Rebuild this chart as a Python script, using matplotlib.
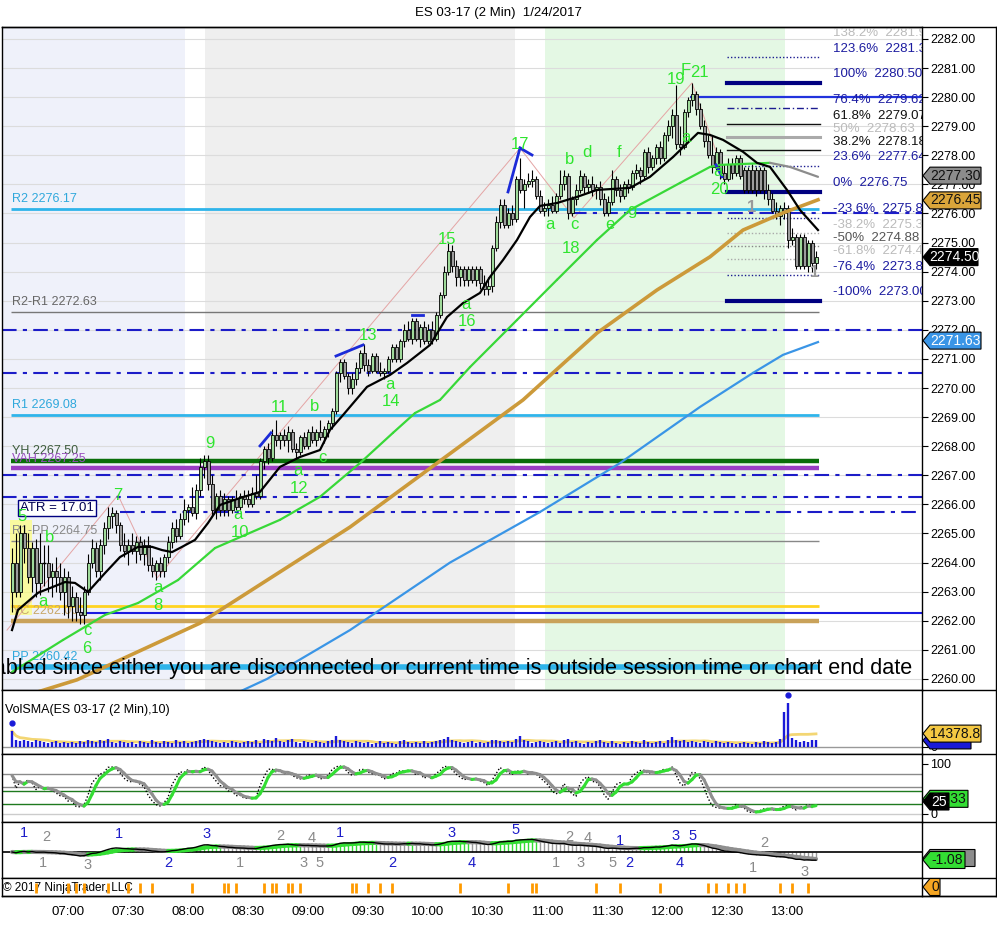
import numpy as np
import pandas as pd
import matplotlib
matplotlib.use('Agg')
import matplotlib.pyplot as plt
from matplotlib.patches import Rectangle, Polygon
from matplotlib.collections import LineCollection
from matplotlib.lines import Line2D
from matplotlib.transforms import IdentityTransform

plt.rcParams['font.family'] = ['Liberation Sans', 'DejaVu Sans']

# ---------------- data ----------------
first_bar = "06:32"          # 2-minute bars
bar_minutes_step = 2
opens = [
    2263.0, 2264.0, 2263.0, 2265.0, 2264.5, 2263.5, 2264.5, 2263.3, 2264.0, 2264.0,
    2263.5, 2263.7, 2263.5, 2263.0, 2263.5, 2262.5, 2262.8, 2262.3, 2262.2, 2263.0,
    2264.0, 2264.5, 2263.7, 2264.6, 2265.2, 2265.6, 2265.7, 2265.3, 2264.6, 2264.4,
    2264.6, 2264.4, 2264.7, 2264.3, 2264.6, 2263.9, 2263.7, 2264.0, 2263.7, 2264.2,
    2264.7, 2265.2, 2264.9, 2265.5, 2265.8, 2265.9, 2265.7, 2266.5, 2267.3, 2267.5,
    2266.7, 2265.8, 2266.3, 2265.8, 2266.2, 2265.8, 2266.2, 2265.9, 2266.3, 2266.2,
    2266.0, 2266.4, 2266.3, 2267.5, 2267.9, 2267.6, 2268.4, 2268.2, 2268.4, 2268.2,
    2268.5, 2267.9, 2267.8, 2268.3, 2268.0, 2268.5, 2268.2, 2268.5, 2268.3, 2268.6,
    2268.8, 2269.2, 2270.5, 2270.9, 2270.4, 2270.0, 2270.3, 2270.7, 2271.2, 2270.8,
    2270.6, 2271.1, 2270.6, 2270.5, 2270.6, 2271.0, 2271.4, 2271.0, 2271.6, 2272.0,
    2271.7, 2272.3, 2271.7, 2272.1, 2271.6, 2272.0, 2271.7, 2272.5, 2273.2, 2274.0,
    2274.7, 2274.2, 2273.8, 2274.1, 2273.7, 2274.1, 2273.7, 2274.1, 2273.6, 2273.4,
    2273.5, 2274.8, 2275.7, 2276.3, 2275.6, 2276.0, 2275.8, 2277.2, 2276.8, 2277.0,
    2277.1, 2277.2, 2276.6, 2276.1, 2276.2, 2276.3, 2276.1, 2276.6, 2277.0, 2277.3,
    2276.0, 2276.5, 2276.8, 2277.3, 2276.9, 2277.0, 2276.8, 2276.9, 2276.5, 2276.0,
    2276.4, 2277.2, 2276.8, 2276.6, 2277.0, 2276.9, 2277.4, 2277.5, 2277.3, 2278.1,
    2277.6, 2277.9, 2278.3, 2277.9, 2278.7, 2279.0, 2279.4, 2278.4, 2278.3, 2279.5,
    2279.9, 2280.1, 2279.6, 2279.0, 2278.5, 2278.0, 2277.6, 2278.1, 2277.4, 2277.2,
    2277.7, 2277.4, 2277.9, 2277.5, 2277.5, 2277.5, 2277.5, 2277.5, 2277.5, 2276.8,
    2276.5, 2276.1, 2275.9, 2276.2, 2276.2, 2275.1, 2275.2, 2274.2, 2275.2, 2274.2,
    2275.0, 2274.3]
highs = [
    2264.5, 2265.0, 2265.3, 2265.3, 2265.0, 2264.7, 2264.8, 2265.0, 2264.6, 2264.6,
    2264.0, 2264.2, 2264.0, 2263.8, 2263.7, 2263.2, 2263.0, 2262.8, 2263.2, 2264.3,
    2264.8, 2264.7, 2264.8, 2265.4, 2265.9, 2265.9, 2265.8, 2265.4, 2265.0, 2264.8,
    2265.0, 2264.9, 2264.9, 2264.8, 2264.9, 2264.2, 2264.1, 2264.2, 2264.3, 2264.9,
    2265.4, 2265.5, 2265.7, 2266.2, 2266.0, 2266.6, 2266.7, 2267.6, 2267.7, 2267.7,
    2267.0, 2266.4, 2266.5, 2266.4, 2266.3, 2266.3, 2266.5, 2266.4, 2266.5, 2266.5,
    2266.6, 2267.0, 2267.6, 2268.0, 2268.1, 2268.6, 2268.9, 2268.5, 2268.6, 2268.7,
    2268.6, 2268.1, 2268.4, 2268.5, 2268.6, 2268.7, 2268.6, 2268.9, 2268.7, 2268.9,
    2269.3, 2270.6, 2271.0, 2271.0, 2270.5, 2270.5, 2270.9, 2271.3, 2271.5, 2271.0,
    2271.2, 2271.2, 2270.9, 2270.7, 2271.1, 2271.5, 2271.5, 2271.7, 2272.2, 2272.3,
    2272.4, 2272.4, 2272.2, 2272.3, 2272.2, 2272.3, 2272.6, 2273.3, 2274.2, 2275.0,
    2274.9, 2274.4, 2274.2, 2274.2, 2274.2, 2274.2, 2274.2, 2274.2, 2273.9, 2273.8,
    2274.9, 2275.9, 2276.5, 2276.5, 2276.2, 2276.3, 2277.3, 2277.9, 2277.2, 2277.4,
    2277.5, 2277.3, 2276.8, 2276.4, 2276.5, 2276.6, 2276.7, 2277.5, 2277.5, 2277.4,
    2276.6, 2277.0, 2277.5, 2277.4, 2277.2, 2277.3, 2277.0, 2277.1, 2276.7, 2276.6,
    2277.5, 2277.3, 2277.0, 2277.1, 2277.2, 2277.5, 2277.7, 2277.6, 2278.2, 2278.3,
    2278.0, 2278.4, 2278.5, 2278.8, 2279.2, 2279.6, 2280.4, 2279.0, 2279.6, 2280.0,
    2280.5, 2280.2, 2279.8, 2279.2, 2278.7, 2278.7, 2278.3, 2278.2, 2277.7, 2277.9,
    2277.9, 2278.0, 2278.0, 2277.6, 2277.6, 2277.7, 2277.6, 2277.6, 2277.6, 2277.0,
    2276.7, 2276.4, 2276.3, 2276.4, 2276.3, 2275.5, 2275.3, 2275.3, 2275.3, 2275.1,
    2275.1, 2274.7]
lows = [
    2262.3, 2262.8, 2262.8, 2264.0, 2263.3, 2263.0, 2262.8, 2262.9, 2263.2, 2263.0,
    2262.8, 2263.0, 2262.7, 2262.2, 2262.1, 2262.0, 2262.0, 2261.9, 2261.9, 2262.9,
    2263.8, 2263.5, 2263.4, 2264.3, 2264.8, 2265.2, 2265.0, 2264.4, 2264.2, 2263.9,
    2264.3, 2264.0, 2264.1, 2263.9, 2263.7, 2263.5, 2263.4, 2263.5, 2263.5, 2264.0,
    2264.5, 2264.7, 2264.8, 2265.3, 2265.4, 2265.6, 2265.5, 2266.3, 2266.9, 2266.5,
    2265.6, 2265.5, 2265.6, 2265.6, 2265.6, 2265.7, 2265.8, 2265.8, 2266.0, 2265.9,
    2265.9, 2266.2, 2266.2, 2267.2, 2267.4, 2267.5, 2268.0, 2267.9, 2268.0, 2267.8,
    2267.8, 2267.6, 2267.7, 2267.9, 2267.9, 2268.1, 2268.0, 2268.2, 2268.1, 2268.3,
    2268.6, 2269.1, 2270.2, 2270.3, 2269.8, 2269.8, 2270.1, 2270.5, 2270.6, 2270.4,
    2270.5, 2270.5, 2270.4, 2270.3, 2270.5, 2270.9, 2270.9, 2270.9, 2271.4, 2271.6,
    2271.5, 2271.6, 2271.4, 2271.5, 2271.5, 2271.5, 2271.6, 2272.4, 2273.1, 2273.9,
    2274.0, 2273.5, 2273.5, 2273.5, 2273.5, 2273.6, 2273.5, 2273.4, 2273.2, 2273.2,
    2273.3, 2274.7, 2275.5, 2275.5, 2275.5, 2275.6, 2275.7, 2276.7, 2276.2, 2276.9,
    2276.9, 2276.5, 2276.0, 2275.9, 2275.9, 2276.0, 2276.0, 2276.5, 2276.8, 2275.8,
    2275.9, 2276.3, 2276.7, 2276.7, 2276.7, 2276.6, 2276.5, 2276.3, 2275.9, 2275.9,
    2276.3, 2276.6, 2276.4, 2276.5, 2276.7, 2276.8, 2277.2, 2277.0, 2277.2, 2277.4,
    2277.5, 2277.7, 2277.7, 2277.8, 2278.5, 2278.6, 2278.2, 2278.0, 2278.2, 2279.3,
    2279.7, 2279.4, 2278.9, 2278.3, 2277.9, 2277.4, 2277.5, 2277.2, 2277.0, 2277.1,
    2277.2, 2277.3, 2277.2, 2276.7, 2276.7, 2276.7, 2276.6, 2276.7, 2276.5, 2276.3,
    2276.0, 2275.8, 2275.6, 2275.8, 2274.8, 2274.9, 2274.1, 2274.1, 2274.1, 2274.0,
    2274.0, 2274.1]
closes = [
    2264.0, 2263.0, 2265.0, 2264.5, 2263.5, 2264.5, 2263.3, 2264.0, 2264.0, 2263.5,
    2263.7, 2263.5, 2263.0, 2263.5, 2262.5, 2262.8, 2262.3, 2262.2, 2263.0, 2264.0,
    2264.5, 2263.7, 2264.6, 2265.2, 2265.6, 2265.7, 2265.3, 2264.6, 2264.4, 2264.6,
    2264.4, 2264.7, 2264.3, 2264.6, 2263.9, 2263.7, 2264.0, 2263.7, 2264.2, 2264.7,
    2265.2, 2264.9, 2265.5, 2265.8, 2265.9, 2265.7, 2266.5, 2267.3, 2267.5, 2266.7,
    2265.8, 2266.3, 2265.8, 2266.2, 2265.8, 2266.2, 2265.9, 2266.3, 2266.2, 2266.0,
    2266.4, 2266.3, 2267.5, 2267.9, 2267.6, 2268.4, 2268.2, 2268.4, 2268.2, 2268.5,
    2267.9, 2267.8, 2268.3, 2268.0, 2268.5, 2268.2, 2268.5, 2268.3, 2268.6, 2268.8,
    2269.2, 2270.5, 2270.9, 2270.4, 2270.0, 2270.3, 2270.7, 2271.2, 2270.8, 2270.6,
    2271.1, 2270.6, 2270.5, 2270.6, 2271.0, 2271.4, 2271.0, 2271.6, 2272.0, 2271.7,
    2272.3, 2271.7, 2272.1, 2271.6, 2272.0, 2271.7, 2272.5, 2273.2, 2274.0, 2274.7,
    2274.2, 2273.8, 2274.1, 2273.7, 2274.1, 2273.7, 2274.1, 2273.6, 2273.4, 2273.5,
    2274.8, 2275.7, 2276.3, 2275.6, 2276.0, 2275.8, 2277.2, 2276.8, 2277.0, 2277.1,
    2277.2, 2276.6, 2276.1, 2276.2, 2276.3, 2276.1, 2276.6, 2277.0, 2277.3, 2276.0,
    2276.5, 2276.8, 2277.3, 2276.9, 2277.0, 2276.8, 2276.9, 2276.5, 2276.0, 2276.4,
    2277.2, 2276.8, 2276.6, 2277.0, 2276.9, 2277.4, 2277.5, 2277.3, 2278.1, 2277.6,
    2277.9, 2278.3, 2277.9, 2278.7, 2279.0, 2279.4, 2278.4, 2278.3, 2279.5, 2279.9,
    2280.1, 2279.6, 2279.0, 2278.5, 2278.0, 2277.6, 2278.1, 2277.4, 2277.2, 2277.7,
    2277.4, 2277.9, 2277.3, 2276.8, 2276.8, 2276.8, 2276.8, 2276.8, 2276.8, 2276.5,
    2276.1, 2275.9, 2276.2, 2276.0, 2275.1, 2275.2, 2274.2, 2275.2, 2274.2, 2275.0,
    2274.3, 2274.5]
volume_k = [
    17, 7, 6, 8, 6, 5, 7, 6, 5, 4, 5, 6, 4, 5,
    4, 5, 4, 6, 5, 8, 6, 5, 7, 6, 9, 5, 4, 6, 5,
    4, 5, 3, 6, 5, 4, 7, 5, 4, 6, 5, 4, 7, 5, 6,
    4, 5, 6, 8, 9, 7, 6, 5, 4, 5, 4, 6, 5, 4, 5,
    6, 5, 7, 4, 9, 8, 6, 10, 6, 5, 7, 9, 5, 4, 6,
    5, 4, 6, 5, 4, 6, 7, 12, 7, 6, 5, 4, 6, 5, 4,
    5, 3, 4, 6, 4, 5, 4, 3, 6, 7, 5, 4, 5, 4, 6,
    4, 5, 6, 8, 9, 11, 7, 6, 5, 4, 5, 6, 4, 5, 4,
    5, 7, 8, 6, 5, 6, 5, 9, 12, 7, 6, 4, 5, 6, 5,
    4, 5, 6, 4, 7, 9, 5, 6, 4, 3, 5, 4, 6, 7, 5,
    4, 6, 4, 3, 5, 4, 6, 5, 4, 7, 5, 4, 5, 6, 4,
    7, 11, 8, 6, 7, 5, 6, 5, 4, 6, 5, 4, 6, 5, 4,
    5, 4, 3, 4, 5, 4, 3, 5, 4, 6, 5, 4, 5, 9, 38,
    47, 10, 7, 5, 6, 5, 7, 7]
vol_sma_last = 14378.8

# moving averages (bar index, price)
ma_fast_idx = [0, 1.5, 6.5, 13.25, 15.75, 19, 23.25, 27, 31.5, 35, 37.5, 40, 42.5, 45.75, 49, 52, 57,
               62, 67, 72, 77, 79.5, 82.75, 88.75, 94.5, 98.75, 104.5, 108.75, 112.75, 117, 119.5,
               122.75, 126.25, 129.5, 132, 136.25, 141.25, 146.25, 154.5, 159.5, 165.25, 171.5,
               174.5, 177.75, 182.75, 186.25, 189.5, 193.75, 197, 201.5]
ma_fast_val = [2261.68, 2262.37, 2262.96, 2263.33, 2263.30, 2262.99, 2263.64, 2264.19, 2264.54, 2264.54,
               2264.43, 2264.36, 2264.54, 2264.78, 2265.36, 2265.98, 2266.22, 2266.43, 2267.29, 2267.63,
               2267.87, 2268.56, 2269.07, 2270.04, 2270.45, 2270.86, 2271.48, 2272.44, 2272.92, 2273.27,
               2273.82, 2274.40, 2275.09, 2275.88, 2276.26, 2276.36, 2276.57, 2276.81, 2276.88, 2277.26,
               2277.94, 2278.77, 2278.70, 2278.53, 2278.12, 2277.74, 2277.60, 2276.81, 2276.12, 2275.43]
ma_mid_idx = [0, 12.75, 23.25, 31.5, 41.5, 50.75, 67, 77, 87, 95.25, 100.75, 107, 114.5, 126.25,
              136.25, 146.25, 154.5, 167, 174.5, 177, 189.5, 194.5, 201.5]
ma_mid_val = [2260.24, 2261.34, 2262.20, 2262.61, 2263.40, 2264.50, 2265.47, 2266.26, 2267.42, 2268.46,
              2269.14, 2269.59, 2270.72, 2272.34, 2273.72, 2275.09, 2276.12, 2277.05, 2277.60, 2277.67,
              2277.74, 2277.60, 2277.26]
ma_slow_idx = [0, 16.25, 47, 84.5, 127.75, 146.25, 161.25, 174.5, 182.75, 192.75, 201.5]
ma_slow_val = [2259.28, 2259.97, 2261.92, 2265.22, 2269.59, 2271.89, 2273.37, 2274.51, 2275.43, 2276.02, 2276.47]
ma_long_idx = [47, 63.75, 84.5, 109.5, 132, 152, 172, 185.25, 192.75, 201.5]
ma_long_val = [2258.93, 2260.00, 2261.68, 2264.00, 2265.74, 2267.42, 2269.35, 2270.52, 2271.14, 2271.58]

# pivot levels
level_names = ['R2', 'R2-R1', 'R1', 'YH', 'VAH', 'R1-PP', 'YC', 'PP']
level_values = [2276.17, 2272.63, 2269.08, 2267.50, 2267.25, 2264.75, 2262.00, 2260.42]
level_colors = ['#2fb4ea', '#777777', '#2fb4ea', '#0a6e0a', '#9a3fc4', '#888888', '#c9a25a', '#2fb4ea']
level_text_colors = ['#2fa8dc', '#666666', '#2fa8dc', '#3d5c3d', '#9a4fc0', '#888888', '#c8a86a', '#2fa8dc']
level_widths = [2.0, 1.0, 2.0, 3.2, 3.2, 1.0, 3.2, 4.0]
yellow_level = 2262.50
low_line_level = 2262.25
low_line_start_idx = 17
high_line_level = 2280.00
high_line_start_idx = 169.5
dashdot_levels = [2272.00, 2270.50, 2267.00, 2266.25, 2265.75, 2276.00]
dashdot_start_idx = [None, None, None, None, 27, 140]

# fibonacci projection
fib_pct = ['138.2%', '123.6%', '100%', '76.4%', '61.8%', '50%', '38.2%', '23.6%', '0%',
           '-23.6%', '-38.2%', '-50%', '-61.8%', '-76.4%', '-100%']
fib_price = [2281.93, 2281.38, 2280.50, 2279.62, 2279.07, 2278.63, 2278.18, 2277.64, 2276.75,
             2275.86, 2275.32, 2274.88, 2274.43, 2273.89, 2273.00]
fib_text_colors = ['#bbbbbb', '#1c1ca0', '#1c1ca0', '#1c1ca0', '#111111', '#bbbbbb', '#111111', '#1c1ca0',
                   '#1c1ca0', '#1c1ca0', '#bbbbbb', '#555555', '#bbbbbb', '#1c1ca0', '#1c1ca0']

# wave-count labels (bar index, price, text)
wave_idx = [2.5, 9.5, 7.75, 18.75, 18.75, 26.5, 36.5, 36.5, 49.5, 56.5, 57, 66.75, 75.75, 77.5, 71.5,
            71.75, 89, 94.5, 94.75, 108.75, 113.5, 113.75, 127, 134.5, 140.5, 139.75, 139.5, 143.75,
            149.5, 151.75, 155, 166, 168.5, 171.75, 168.5, 176.5, 176.75]
wave_price = [2265.57, 2264.85, 2262.65, 2261.68, 2261.06, 2266.32, 2263.13, 2262.54, 2268.08, 2265.64,
              2265.02, 2269.32, 2269.35, 2267.60, 2267.15, 2266.53, 2271.79, 2270.11, 2269.52, 2275.09,
              2272.86, 2272.27, 2278.36, 2275.61, 2275.61, 2274.78, 2277.84, 2278.08, 2275.61, 2278.08,
              2276.09, 2280.59, 2280.93, 2280.83, 2278.60, 2277.43, 2276.81]
wave_text = ['5', 'b', 'a', 'c', '6', '7', 'a', '8', '9', 'a', '10', '11', 'b', 'c', 'a',
             '12', '13', 'a', '14', '15', 'a', '16', '17', 'a', 'c', '18', 'b', 'd',
             'e', 'f', 'g', '19', 'F', '21', 'a', 'a', '20']
gray_label_idx = [185, 200.75]
gray_label_price = [2276.22, 2273.96]

# divergence marks and zigzag (bar index pairs, price pairs)
div_idx = [(62, 64.75), (81, 87.75), (100, 102.75), (124, 127), (127, 130), (176, 177.5)]
div_price = [(2268.01, 2268.46), (2271.10, 2271.48), (2272.51, 2272.51), (2276.74, 2278.25),
             (2278.25, 2278.01), (2277.67, 2277.26)]
zig_idx = [-1.25, 26.5, 36.25, 127, 140.5, 170, 178.25]
zig_price = [2261.68, 2266.32, 2263.47, 2278.25, 2275.85, 2280.49, 2277.26]

# session shading
band_start = ['06:27', '08:10', '11:00']
band_end = ['08:00', '10:45', '13:00']
band_color = ['#eff1fa', '#efefef', '#e4f8e4']

# MACD-panel swing labels (bar index, value, text, color)
macd_lab_idx = [3, 26.75, 48.75, 82, 110, 126, 152, 166, 170.25,
                39, 95, 115, 154.25, 167,
                8.5, 67, 75, 139.25, 144, 188,
                7.75, 19, 57, 73, 77, 136, 142.25, 150.25, 185.25, 198.25]
macd_lab_val = [1.9, 1.8, 1.8, 1.9, 1.9, 2.2, 1.1, 1.6, 1.6,
                -1.1, -1.1, -1.1, -1.1, -1.1,
                1.5, 1.6, 1.4, 1.5, 1.4, 0.9,
                -1.1, -1.3, -1.1, -1.1, -1.1, -1.1, -1.1, -1.1, -1.6, -2.0]
macd_lab_text = ['1', '1', '3', '1', '3', '5', '1', '3', '5',
                 '2', '2', '4', '2', '4',
                 '2', '2', '4', '2', '4', '2',
                 '1', '3', '1', '3', '5', '1', '3', '5', '1', '3']
macd_lab_blue = [1] * 14 + [0] * 16

signal_bars = [6, 14, 16, 18, 24, 29, 32, 35, 45, 53, 54, 56, 63, 65, 66, 69, 70, 72, 85, 86, 89, 92,
               95, 112, 124, 130, 131, 146, 152, 162, 174, 176, 179, 181, 183, 192, 195, 199]

time_labels = ['07:00', '07:30', '08:00', '08:30', '09:00', '09:30', '10:00', '10:30',
               '11:00', '11:30', '12:00', '12:30', '13:00']

stoch_tag_values = [30.33, 25]
macd_tag_values = [-0.6, -0.8]
macd_tag_text = ['', '-1.08']


# ---------------- helpers ----------------
def hm(s):
    h, m = s.split(':')
    return int(h) * 60 + int(m)

T0 = hm(first_bar)
def bx(i):
    return T0 + bar_minutes_step * np.asarray(i, dtype=float)

n = len(closes)
xb = bx(np.arange(n))

W, H = 997, 952
fig = plt.figure(figsize=(W / 100, H / 100), dpi=100)

def fx(x): return x / W
def fy(y): return 1 - y / H

def add_panel(top, bottom):
    return fig.add_axes([fx(2), fy(bottom), fx(922) - fx(2), fy(top) - fy(bottom)])

ax = add_panel(27, 690)
axv = add_panel(690, 754)
axs = add_panel(754, 822)
axm = add_panel(822, 878)
axg = add_panel(878, 896)
XL = (T0 - 5, T0 + 455)
for a in (ax, axv, axs, axm, axg):
    a.set_xlim(*XL)
    a.tick_params(axis='x', which='both', length=0, labelbottom=False)
    a.yaxis.tick_right()
    a.tick_params(axis='y', direction='out', length=4, pad=2, labelsize=9, width=0.8)
    for s in a.spines.values():
        s.set_linewidth(1.0)

def slope_line(a, x, y, up, down, lw, z):
    x = np.asarray(x); y = np.asarray(y)
    pts = np.column_stack([x, y])
    segs = np.stack([pts[:-1], pts[1:]], axis=1)
    cols = [up if y[i + 1] >= y[i] else down for i in range(len(y) - 1)]
    a.add_collection(LineCollection(segs, colors=cols, linewidths=lw, zorder=z, capstyle='round'))

# ---------------- main price panel ----------------
ax.set_ylim(2259.62, 2282.41)
pticks = np.arange(2260, 2283)
ax.set_yticks(pticks)
ax.set_yticklabels([f'{v:.2f}' for v in pticks])
for v in pticks:
    ax.axhline(v, color='#dcdcdc', lw=0.8, zorder=0.6)

for s0, s1, col in zip(band_start, band_end, band_color):
    ax.axvspan(hm(s0) - 1.5, hm(s1) - 1.5, color=col, zorder=0.1, lw=0)

x_first, x_last = xb[0] - 0.5, xb[-1] + 1.5
for name, val, col, tcol, lw in zip(level_names, level_values, level_colors, level_text_colors, level_widths):
    ax.hlines(val, x_first, x_last, color=col, lw=lw, zorder=2.4)
    ax.text(x_first + 0.5, val + 0.12, f'{name} {val:.2f}', color=tcol, fontsize=9,
            va='bottom', ha='left', zorder=2.6)
ax.hlines(yellow_level, x_first, x_last, color='#ffd320', lw=2.0, zorder=2.3)
ax.hlines(low_line_level, bx(low_line_start_idx), XL[1], color='#1a1ae0', lw=1.5, zorder=2.3)
ax.hlines(high_line_level, bx(high_line_start_idx), XL[1], color='#2233dd', lw=1.6, zorder=2.3)
for val, st in zip(dashdot_levels, dashdot_start_idx):
    xs = XL[0] if st is None else bx(st)
    ax.plot([xs, XL[1]], [val, val], color='#1c1cc8', lw=1.5, ls=(0, (7, 3, 2, 3)), zorder=2.3)

# yellow highlight box and ATR box
ax.add_patch(Rectangle((bx(-0.5), 2262.2), bx(5) - bx(-0.5), 3.25, fc='#ffff70', ec='none',
                       alpha=0.65, zorder=1.0))
ax.text(bx(11.25), 2265.86, 'ATR = 17.01', fontsize=9.5, color='#000050', ha='center', va='center',
        bbox=dict(boxstyle='square,pad=0.15', fc='white', ec='#000080', lw=1.0), zorder=5)

# zigzag and divergence marks
ax.plot(bx(zig_idx), zig_price, color='#e4a4a4', lw=0.7, zorder=1.5)
for (i0, i1), (p0, p1) in zip(div_idx, div_price):
    ax.plot(bx([i0, i1]), [p0, p1], color='#1c2ad8', lw=2.0, zorder=4.5)

# candles
for i in range(n):
    o, h_, l_, c_ = opens[i], highs[i], lows[i], closes[i]
    x = xb[i]
    ax.vlines(x, l_, h_, color='black', lw=0.8, zorder=3)
    if abs(c_ - o) < 1e-9:
        ax.hlines(o, x - 0.8, x + 0.8, color='black', lw=1.0, zorder=3.1)
    else:
        fc = '#9fda9a' if c_ > o else '#9c9c9c'
        ax.add_patch(Rectangle((x - 0.75, min(o, c_)), 1.5, abs(c_ - o), fc=fc, ec='black',
                               lw=0.6, zorder=3.1))

# moving averages
ax.plot(bx(ma_long_idx), ma_long_val, color='#3a95e6', lw=1.6, zorder=3.5)
ax.plot(bx(ma_slow_idx), ma_slow_val, color='#cc9a3a', lw=2.6, zorder=3.5)
slope_line(ax, bx(ma_mid_idx), ma_mid_val, '#38d838', '#8c8c8c', 1.6, 3.6)
ax.plot(bx(ma_fast_idx), ma_fast_val, color='black', lw=1.6, zorder=3.7)

# fibonacci
fib_x0, fib_x1 = bx(178.75), bx(202)
fib_styles = [None, ('#1c1c90', 1.0, (0, (1, 1.5))), ('#000080', 3.0, '-'), ('#1c1c90', 1.0, (0, (5, 2, 1, 2))),
              ('#111111', 1.0, '-'), ('#aaaaaa', 2.2, '-'), ('#111111', 1.0, '-'), ('#1c1c90', 1.0, (0, (1, 1.5))),
              ('#000080', 3.0, '-'), ('#1c1c90', 1.0, (0, (1, 1.5))), ('#aaaaaa', 1.0, (0, (1, 1.5))),
              ('#888888', 1.0, (0, (1, 1.5))), ('#aaaaaa', 1.0, (0, (1, 1.5))), ('#1c1c90', 1.0, (0, (1, 1.5))),
              ('#000080', 3.0, '-')]
for pct, pr, tc, sty in zip(fib_pct, fib_price, fib_text_colors, fib_styles):
    if sty is not None:
        ax.plot([fib_x0, fib_x1], [pr, pr], color=sty[0], lw=sty[1], ls=sty[2], zorder=2.8)
    ax.text(bx(205.25), pr + 0.08, f'{pct}  {pr:.2f}', color=tc, fontsize=9.5, va='bottom',
            ha='left', zorder=5, clip_on=True)

# wave labels
for i, p, s in zip(wave_idx, wave_price, wave_text):
    ax.text(bx(i), p, s, color='#2fe52f', fontsize=12, ha='center', va='center', zorder=6)
for i, p in zip(gray_label_idx, gray_label_price):
    ax.text(bx(i), p, '1', color='#999999', fontsize=12, ha='center', va='center', zorder=6,
            fontweight='bold')

# status message
ax.text(0.989, 0.033, 'Chart Trader is disabled since either you are disconnected or current time is outside '
        'session time or chart end date', transform=ax.transAxes, ha='right', va='center',
        fontsize=15.6, color='black', zorder=8, clip_on=True)

# ---------------- volume panel ----------------
vol = np.array(volume_k) * 1000.0
axv.set_ylim(-7700, 61600)
axv.set_yticks([0]); axv.set_yticklabels(['0'])
axv.axhline(0, color='#999999', lw=1.0, zorder=1)
axv.vlines(xb, 0, vol, color='#1a1ad8', lw=1.7, zorder=3)
vsma = pd.Series(vol).rolling(10, min_periods=1).mean()
axv.plot(xb, vsma, color='#f3d673', lw=2.0, zorder=2)
for i in [0, 194]:
    axv.plot(xb[i], vol[i] + 9000, 'o', color='#1a1ad8', ms=3.5, zorder=4)
axv.text(0.003, 0.69, 'VolSMA(ES 03-17 (2 Min),10)', transform=axv.transAxes, fontsize=9,
         ha='left', va='center')

# ---------------- stochastics panel ----------------
c = pd.Series(closes); hS = pd.Series(highs); lS = pd.Series(lows)
ll = lS.rolling(14, min_periods=1).min(); hh = hS.rolling(14, min_periods=1).max()
k_fast = 100 * (c - ll) / (hh - ll).replace(0, np.nan)
k_fast = k_fast.fillna(50)
k_slow = k_fast.rolling(3, min_periods=1).mean()
d_slow = k_slow.rolling(3, min_periods=1).mean()
axs.set_ylim(-16, 120)
axs.set_yticks([0, 100]); axs.set_yticklabels(['0', '100'])
for v, col in [(80, '#8a8a8a'), (54, '#8a8a8a'), (46, '#1f7a1f'), (20, '#1f7a1f'), (0, '#cccccc')]:
    axs.axhline(v, color=col, lw=1.0, zorder=1)
axs.plot(xb, k_slow, color='black', lw=1.0, ls=(0, (1, 1.5)), zorder=2.5)
slope_line(axs, xb, d_slow.values, '#33dd33', '#8f8f8f', 2.2, 3)

# ---------------- MACD panel ----------------
ema12 = c.ewm(span=12, adjust=False).mean()
ema26 = c.ewm(span=26, adjust=False).mean()
macd = (ema12 - ema26).values
sig = pd.Series(macd).ewm(span=9, adjust=False).mean().values
axm.set_ylim(-2.6, 3.0)
axm.set_yticks([])
hist_cols = ['#33dd33' if macd[i] >= sig[i] else '#9a9a9a' for i in range(n)]
axm.vlines(xb, 0, macd, colors=hist_cols, lw=1.0, zorder=1.5)
axm.axhline(0, color='black', lw=1.2, zorder=2)
slope_line(axm, xb, sig, '#33dd33', '#8f8f8f', 3.0, 3)
axm.plot(xb, macd, color='black', lw=1.0, zorder=3.5)
for i, v, s, b in zip(macd_lab_idx, macd_lab_val, macd_lab_text, macd_lab_blue):
    axm.text(bx(i), v, s, color='#1c1cc8' if b else '#8a8a8a', fontsize=10.5, ha='center', va='center',
             zorder=5)

# ---------------- signal panel ----------------
axg.set_ylim(0, 1)
axg.set_yticks([])
axg.vlines(bx(signal_bars), 0.17, 0.72, color='#ff9a00', lw=2.0, zorder=3)
axg.text(XL[0] + 0.5, 0.45, '\u00a9 2017 NinjaTrader, LLC', fontsize=8.5, va='center', ha='left', zorder=2)
axg.set_xticks([hm(t) for t in time_labels])
axg.set_xticklabels(time_labels)
axg.tick_params(axis='x', labelbottom=True, length=0, pad=7, labelsize=9.5)

# ---------------- title, frame, tags ----------------
fig.text(0.5, fy(13), 'ES 03-17 (2 Min)  1/24/2017', ha='center', va='center', fontsize=9.5)

def fline(x0, y0, x1, y1):
    fig.add_artist(Line2D([x0, x1], [H - y0, H - y1], transform=IdentityTransform(),
                          color='black', lw=1.0))
fline(2, 27, 996, 27)
fline(996, 27, 996, 896)
for yy in (690, 754, 822, 878, 896):
    fline(922, yy, 996, yy)
fline(2, 896, 996, 896)

def tag(a, value, text, fc, tc, width=58):
    yd = a.transData.transform((XL[0], value))[1]
    x0 = 923; x1 = x0 + width
    pts = [(x0, yd), (x0 + 7, yd + 8.5), (x1, yd + 8.5), (x1, yd - 8.5), (x0 + 7, yd - 8.5)]
    fig.add_artist(Polygon(pts, closed=True, fc=fc, ec='black', lw=0.8, transform=IdentityTransform(),
                           zorder=10))
    if text:
        fig.text((x0 + 7 + x1) / 2, yd, text, transform=IdentityTransform(), ha='center', va='center',
                 fontsize=10, color=tc, zorder=11)

tag(ax, 2271.63, '2271.63', '#3a95e6', 'white')
tag(ax, 2277.30, '2277.30', '#8c8c8c', '#111111')
tag(ax, 2276.45, '2276.45', '#daa53a', '#111111')
tag(ax, closes[-1], f'{closes[-1]:.2f}', 'black', 'white', width=55)
tag(axv, vol[-1], '', '#1a1ad8', 'white', width=48)
tag(axv, vol_sma_last, '14378.8', '#f4c842', '#111111', width=58)
tag(axs, stoch_tag_values[0], f'{stoch_tag_values[0]:.2f}', '#33dd33', '#111111', width=45)
tag(axs, stoch_tag_values[1], f'{stoch_tag_values[1]:g}', 'black', 'white', width=26)
tag(axm, macd_tag_values[0], macd_tag_text[0], '#8c8c8c', '#111111', width=52)
tag(axm, macd_tag_values[1], macd_tag_text[1], '#33dd33', '#111111', width=42)
tag(axg, 0.5, '0', '#f5a623', '#111111', width=17)

fig.savefig('out.png', dpi=100)
